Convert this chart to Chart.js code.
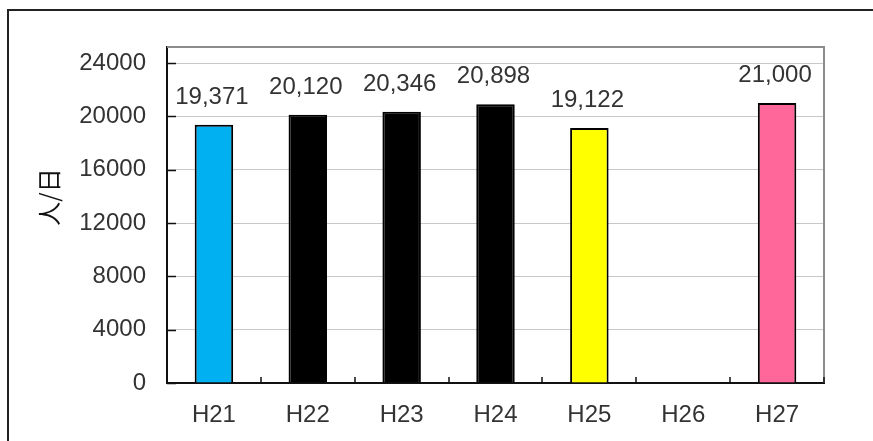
<!DOCTYPE html>
<html>
<head>
<meta charset="utf-8">
<script src="https://cdn.jsdelivr.net/npm/chart.js@4"></script>
<style>
    html, body { margin: 0; padding: 0; background: #fff; }
    #wrap { position: relative; width: 873px; height: 441px; }
    #frame { position: absolute; left: 7px; top: 9px; right: -10px; bottom: -10px;
             border-left: 2px solid #222; border-top: 2px solid #222; }
</style>
</head>
<body>
<div id="wrap">
    <div id="frame"></div>
    <canvas id="chartCanvas" width="873" height="441"></canvas>
</div>
<script>
// data
let years = ['H21', 'H22', 'H23', 'H24', 'H25', 'H26', 'H27'];
let visitors = [19371, 20120, 20346, 20898, 19122, null, 21000];
let barColors = ['#00b0f0', '#000000', '#000000', '#000000', '#ffff00', '#ffffff', '#ff6699'];
let yTicks = [0, 4000, 8000, 12000, 16000, 20000, 24000];
let yLabel = '人/日';

const FONT = "'Liberation Sans', Arial, sans-serif";
const TEXT = '#333';

// gray box on top/right, inward tick marks, value labels and the rotated unit label
const decorations = {
    id: 'decorations',
    beforeDatasetsDraw(chart) {
        const ctx = chart.ctx, a = chart.chartArea;
        ctx.save();
        ctx.strokeStyle = '#8c8c8c';
        ctx.lineWidth = 2;
        ctx.beginPath();
        ctx.moveTo(a.left, a.top);
        ctx.lineTo(a.right, a.top);
        ctx.lineTo(a.right, a.bottom);
        ctx.stroke();
        ctx.restore();
    },
    afterDatasetsDraw(chart) {
        const ctx = chart.ctx, a = chart.chartArea;
        const x = chart.scales.x, y = chart.scales.y;
        ctx.save();
        ctx.strokeStyle = '#111';
        ctx.lineWidth = 1.5;
        ctx.beginPath();
        yTicks.forEach((v) => {
            const py = Math.round(y.getPixelForValue(v)) + 0.5;
            ctx.moveTo(a.left, py);
            ctx.lineTo(a.left + 9, py);
        });
        for (let i = 0; i <= years.length; i++) {
            const px = Math.round(x.getPixelForValue(i - 0.5));
            ctx.moveTo(px, a.bottom);
            ctx.lineTo(px, a.bottom - 6);
        }
        ctx.stroke();

        ctx.fillStyle = TEXT;
        ctx.font = '24px ' + FONT;
        ctx.textAlign = 'center';
        ctx.textBaseline = 'alphabetic';
        chart.getDatasetMeta(0).data.forEach((bar, i) => {
            if (visitors[i] == null) return;
            ctx.fillText(visitors[i].toLocaleString('en-US'), bar.x - 2, bar.y - 21);
        });

        ctx.translate(49, 197);
        ctx.rotate(-Math.PI / 2);
        ctx.font = "24px 'Noto Sans CJK JP', sans-serif";
        ctx.textBaseline = 'middle';
        ctx.fillStyle = '#111';
        ctx.fillText(yLabel, 0, 0);
        ctx.restore();
    }
};

const chart = new Chart(document.getElementById('chartCanvas').getContext('2d'), {
    type: 'bar',
    data: {
        labels: years,
        datasets: [{
            data: visitors,
            backgroundColor: barColors,
            borderColor: '#000',
            borderWidth: 2,
            categoryPercentage: 1,
            barPercentage: 0.41
        }]
    },
    options: {
        responsive: false,
        animation: false,
        layout: { padding: { top: 47, right: 49, bottom: 0, left: 0 } },
        plugins: { legend: { display: false }, tooltip: { enabled: false } },
        scales: {
            x: {
                grid: { display: false, drawTicks: false },
                border: { color: '#111', width: 2 },
                ticks: { color: TEXT, font: { family: FONT, size: 24 }, padding: 18 },
                afterFit: (s) => { s.height = 58; }
            },
            y: {
                min: 0,
                max: 25200,
                afterBuildTicks: (s) => { s.ticks = yTicks.map((v) => ({ value: v })); },
                grid: { color: '#c8c8c8', lineWidth: 1, drawTicks: false },
                border: { color: '#111', width: 2 },
                ticks: {
                    color: TEXT,
                    font: { family: FONT, size: 24 },
                    padding: 21,
                    callback: (v) => String(v)
                },
                afterFit: (s) => { s.width = 167; }
            }
        }
    },
    plugins: [decorations]
});
</script>
</body>
</html>
